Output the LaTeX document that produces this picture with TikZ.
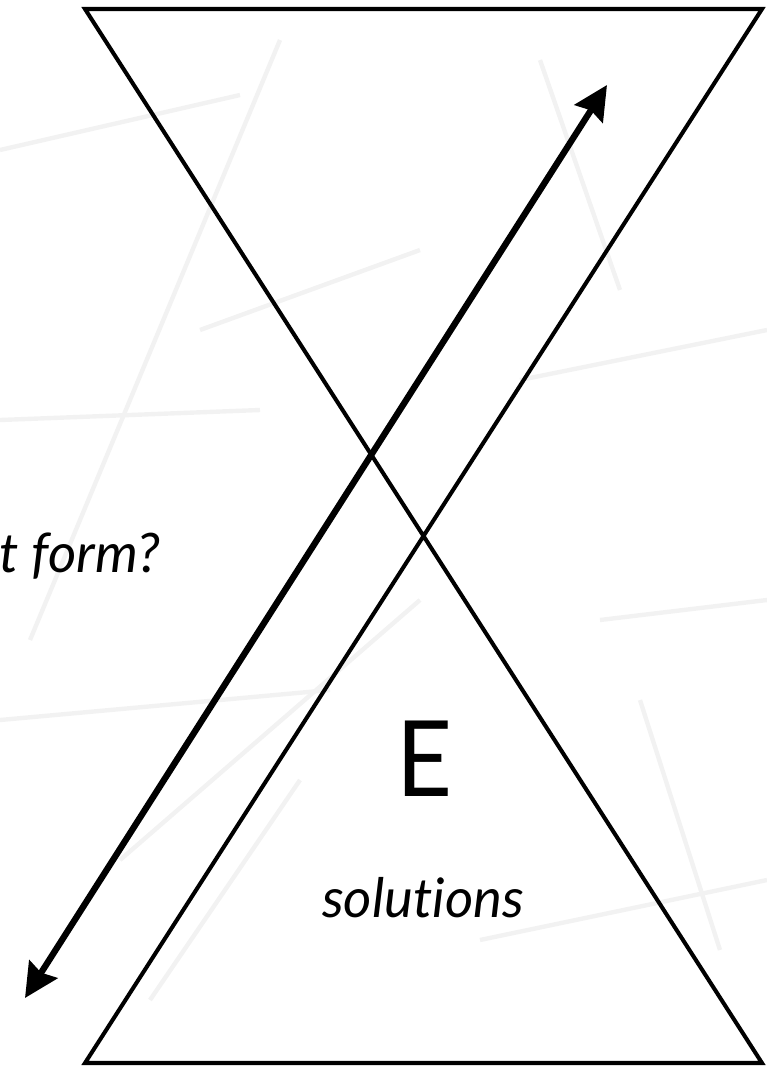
\documentclass[tikz,border=0pt]{standalone}
\usepackage{fontspec}
\setmainfont{Lato}[Ligatures={NoCommon}]
\usetikzlibrary{arrows.meta}
\begin{document}
\begin{tikzpicture}[x=0.02cm,y=-0.02cm]
\useasboundingbox (0,0) rectangle (767,1066);

% faint scribbles in the background
\begin{scope}[black!5,line width=2.5pt]
\draw (0,150) -- (240,95);
\draw (0,420) -- (260,410);
\draw (30,640) -- (280,40);
\draw (120,860) -- (420,600);
\draw (0,720) -- (330,690);
\draw (520,380) -- (767,330);
\draw (540,60) -- (620,290);
\draw (600,620) -- (767,600);
\draw (150,1000) -- (300,780);
\draw (480,940) -- (767,880);
\draw (200,330) -- (420,250);
\draw (640,700) -- (720,950);
\end{scope}

\coordinate (TL) at (85,9);
\coordinate (TR) at (762,9);
\coordinate (BL) at (85,1063);
\coordinate (BR) at (762,1063);

\draw[line width=2.3pt,line join=miter] (TL)--(TR)--(BL)--(BR)--cycle;

\coordinate (P) at (25,998);
\coordinate (Q) at (607,85);
\draw[line width=3.6pt,{Stealth[length=0.68cm,width=0.66cm,inset=0.08cm]}-{Stealth[length=0.68cm,width=0.66cm,inset=0.08cm]}] (P)--(Q);

\node[anchor=base east,font=\itshape\fontsize{31}{36}\selectfont] (form) at (166,572) {t form?};
\node[anchor=base,xscale=0.92,font=\fontsize{60}{66}\selectfont] (E) at (425,796) {E};
\node[anchor=base,font=\itshape\fontsize{31}{36}\selectfont] (sol) at (423,917) {solutions};
\end{tikzpicture}
\end{document}
